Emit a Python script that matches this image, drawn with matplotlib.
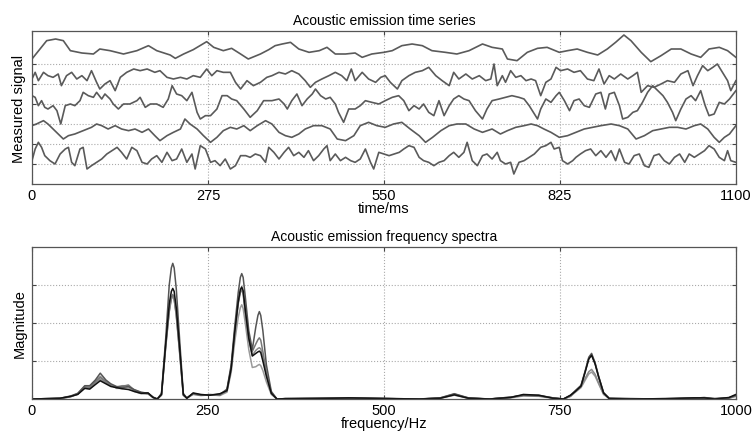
import matplotlib
matplotlib.use("Agg")
import matplotlib.pyplot as plt

plt.rcParams["font.family"] = ["Liberation Sans", "DejaVu Sans"]

# time series, five channels (time in ms, signal in arbitrary units)
t_ch1 = [0,23,37,49,60,78,96,106,122,143,164,182,195,216,224,237,252,273,284,299,312,326,338,357,370,380,391,404,417,433,449,461,474,490,505,516,531,550,563,578,594,610,625,646,664,683,704,719,735,743,758,774,790,805,824,837,852,868,884,899,912,925,936,952,967,983,999,1014,1030,1045,1058,1074,1087,1100]
sig_ch1 = [-30,25,30,25,-5,-12,-15,0,-5,-15,-5,10,-5,-18,-28,-15,-2,22,5,-5,2,-15,-30,-15,-2,10,15,20,0,-10,-5,5,-15,-15,-12,-25,-15,-10,-5,10,15,10,-5,-10,-15,-5,15,5,0,-30,-35,-10,2,5,-10,-5,0,-10,-18,0,20,42,25,-10,-38,-20,0,0,-15,-25,0,5,-5,-25]

t_ch2 = [0,5,10,18,25,33,41,46,54,62,70,78,86,93,101,106,114,122,130,138,148,159,169,180,192,200,211,221,232,242,252,263,273,281,289,299,310,318,326,336,346,357,367,375,386,396,406,417,427,435,443,453,464,474,484,492,499,505,516,526,537,545,552,560,571,578,589,599,610,620,631,641,652,659,667,678,688,699,709,717,722,727,735,740,748,756,764,772,780,787,795,803,811,819,826,837,847,857,868,878,886,894,902,910,920,931,939,946,952,962,972,983,993,1004,1014,1025,1033,1040,1048,1056,1064,1071,1079,1087,1092,1100]
sig_ch2 = [-10,10,-15,10,0,-5,5,-30,0,10,-10,0,-15,15,-20,-40,-25,-15,-45,-5,10,20,15,20,10,15,-5,-10,-5,-10,0,-5,20,0,15,10,10,-20,-40,-15,-30,-20,-5,0,10,5,15,5,-15,-35,-20,-10,0,10,0,-15,20,-15,10,-10,-20,-5,0,-20,-40,-15,0,10,15,25,0,-15,-30,10,-10,5,-10,0,-15,-10,35,-30,0,-20,15,-5,0,-15,-10,-15,-60,-20,-10,25,15,20,10,15,-10,-15,20,-25,0,-10,5,-10,0,10,-50,-30,-35,-25,-15,-20,5,15,-30,0,30,15,25,35,10,-15,-45,-15]

t_ch3 = [0,5,10,15,20,25,33,39,45,52,60,67,75,80,88,96,101,109,114,122,127,135,143,153,164,169,177,185,195,205,213,219,226,234,242,250,258,263,271,279,289,297,305,312,320,331,341,352,362,375,386,394,399,406,414,422,430,438,443,451,459,466,474,479,487,495,505,513,521,531,542,552,563,573,581,589,597,605,612,620,628,636,644,652,659,667,675,683,693,704,711,719,730,740,750,761,769,777,785,790,795,803,811,819,824,832,840,847,855,863,871,881,889,896,902,910,918,923,931,939,946,954,962,970,978,986,993,1001,1006,1014,1022,1030,1037,1045,1052,1058,1066,1074,1082,1090,1100]
sig_ch3 = [20,15,-10,5,-15,-20,-10,-25,-65,-10,-5,-10,5,30,20,15,30,10,25,10,-5,-20,-5,-5,5,15,-15,-5,-5,-15,10,50,25,20,5,30,-30,-50,-40,-40,-20,20,20,10,5,-20,-45,-25,5,5,10,-5,-20,5,25,-10,10,25,40,20,10,15,-5,-30,-60,-20,-20,-10,5,0,-5,5,15,20,5,-25,-10,-20,-5,-30,-40,5,-40,-10,10,20,10,5,-25,-50,-20,5,10,15,20,15,10,-10,-35,-50,-20,10,0,20,30,5,-25,5,10,-10,-15,25,30,-20,25,30,-10,-50,-45,-30,-25,0,30,50,35,20,0,-30,-55,-20,10,20,5,35,-10,-40,-35,0,-5,10,35]

t_ch4 = [0,7,18,25,33,41,49,57,67,80,93,101,109,119,130,140,151,161,172,182,192,200,211,221,232,239,247,258,268,279,289,299,310,320,331,341,352,365,375,386,396,406,417,427,440,453,466,477,490,503,513,526,539,552,565,578,591,605,615,626,639,652,664,678,691,704,719,732,743,756,769,780,790,800,811,824,837,850,863,876,889,905,918,931,944,957,970,983,996,1009,1022,1035,1045,1056,1066,1074,1082,1090,1100]
sig_ch4 = [10,15,25,15,0,-15,-30,-20,-15,-5,5,15,10,0,10,0,-5,0,-10,0,-20,-35,-20,-10,0,30,15,0,-20,-40,-25,-5,5,0,10,-5,10,25,15,-10,-20,-25,-15,0,10,10,0,-30,-35,-20,10,20,10,5,15,20,0,-20,-40,-25,-5,10,15,15,0,-10,0,-15,-5,5,10,15,10,0,-10,-25,-20,-10,0,5,10,15,10,0,-30,-20,-5,0,5,5,0,10,15,0,-25,-40,-25,-15,10]

t_ch5 = [0,5,10,15,20,28,36,44,52,57,62,67,75,80,86,93,101,109,117,125,133,140,148,156,164,172,180,187,195,203,211,219,226,234,242,250,255,263,271,279,286,294,302,310,318,326,334,341,349,357,365,370,378,386,394,401,409,417,425,432,440,448,456,461,466,474,482,490,498,505,513,521,529,534,542,550,558,566,574,581,589,597,605,612,620,628,636,644,652,659,667,675,680,688,696,704,711,719,727,732,740,748,753,761,769,777,785,795,803,811,816,824,829,837,845,850,857,865,873,881,889,897,905,912,918,926,933,941,949,957,964,972,980,988,996,1004,1012,1020,1027,1035,1043,1051,1058,1066,1074,1082,1087,1092,1100]
sig_ch5 = [-15,20,40,25,0,-15,-25,5,20,25,-20,-30,20,25,-40,-30,-20,-10,5,15,25,10,-10,25,15,-20,-25,-10,0,-20,10,-15,-10,20,-20,5,-40,30,20,-20,-15,-30,-10,-40,-30,0,0,-5,5,0,-20,25,10,-10,10,25,0,10,-5,15,-15,0,20,30,-15,5,-15,-5,-15,-20,-10,20,-20,-40,10,5,0,5,10,20,30,25,-5,-15,-20,-30,-20,-15,0,10,-5,10,40,-15,-30,0,5,-10,10,-15,-25,-20,-55,-20,-15,-5,5,25,30,40,20,25,-15,-25,-15,-5,5,15,20,0,15,-5,15,-15,20,-20,-25,0,5,-30,-35,0,5,-15,-25,-5,5,-20,5,-5,5,15,30,20,-5,-15,15,-15,-20]

# frequency spectra (Hz, magnitude)
freq = [0,40,55,65,75,82,90,97,105,112,120,128,137,145,155,165,172,178,
        184,190,195,198,200,202,205,210,215,220,229,240,253,267,
        277,283,288,293,296,298,300,303,308,313,318,321,323,325,328,333,340,348,
        360,400,450,550,580,600,620,650,680,698,720,740,755,
        765,772,780,786,791,795,800,805,812,820,850,900,940,955,970,990,1000]
mag_a = [0,0.02,0.08,0.15,0.35,0.35,0.5,0.68,0.5,0.4,0.33,0.3,0.33,0.25,0.18,0.15,0.05,0.0,
         0.15,1.6,3.0,3.45,3.57,3.45,2.9,1.5,0.15,0.02,0.15,0.1,0.11,0.12,
         0.26,0.9,1.9,2.8,3.2,3.3,3.2,2.7,1.8,1.3,1.9,2.2,2.3,2.2,1.8,0.9,0.2,0.0,
         0.01,0.02,0.02,0.0,0.03,0.14,0.03,0.0,0.05,0.1,0.09,0.03,0.0,
         0.1,0.22,0.36,0.75,1.1,1.2,0.95,0.6,0.17,0.02,0.01,0.0,0.02,0.04,0.01,0.03,0.1]
mag_b = [0,0.02,0.07,0.12,0.28,0.26,0.38,0.48,0.4,0.33,0.3,0.27,0.25,0.2,0.15,0.16,0.04,0.0,
         0.12,1.45,2.5,2.83,2.91,2.83,2.4,1.3,0.12,0.02,0.16,0.12,0.1,0.14,
         0.22,0.8,1.75,2.55,2.88,2.95,2.85,2.35,1.6,1.13,1.2,1.24,1.26,1.22,1.0,0.6,0.15,0.0,
         0.01,0.01,0.03,0.0,0.02,0.11,0.02,0.0,0.04,0.12,0.1,0.02,0.0,
         0.1,0.2,0.34,0.72,1.05,1.15,0.92,0.58,0.16,0.01,0.0,0.01,0.03,0.03,0.0,0.04,0.12]
mag_c = [0,0.01,0.06,0.13,0.3,0.3,0.45,0.57,0.45,0.36,0.3,0.33,0.37,0.24,0.17,0.14,0.04,0.0,
         0.12,1.4,2.35,2.68,2.75,2.66,2.25,1.2,0.1,0.03,0.13,0.1,0.12,0.1,
         0.24,0.85,1.8,2.55,2.83,2.9,2.8,2.3,1.6,1.25,1.45,1.56,1.61,1.55,1.25,0.7,0.17,0.0,
         0.01,0.02,0.02,0.0,0.03,0.13,0.02,0.0,0.05,0.1,0.08,0.03,0.0,
         0.08,0.22,0.35,0.72,1.07,1.17,0.93,0.58,0.16,0.02,0.01,0.0,0.02,0.03,0.01,0.03,0.09]
mag_d = [0,0.02,0.07,0.14,0.32,0.28,0.42,0.52,0.42,0.35,0.32,0.35,0.35,0.22,0.16,0.15,0.05,0.0,
         0.1,1.4,2.3,2.63,2.7,2.62,2.2,1.2,0.1,0.03,0.14,0.11,0.1,0.12,
         0.2,0.8,1.7,2.5,2.8,2.87,2.76,2.25,1.55,1.15,1.28,1.33,1.35,1.32,1.1,0.65,0.15,0.0,
         0.0,0.02,0.03,0.0,0.02,0.12,0.03,0.0,0.04,0.09,0.1,0.03,0.0,
         0.07,0.2,0.33,0.55,0.72,0.78,0.65,0.42,0.13,0.02,0.0,0.01,0.03,0.02,0.0,0.02,0.08]
mag_e = [0,0.01,0.06,0.13,0.33,0.32,0.48,0.6,0.47,0.38,0.28,0.28,0.3,0.2,0.14,0.13,0.04,0.0,
         0.1,1.35,2.3,2.65,2.72,2.63,2.2,1.15,0.1,0.02,0.12,0.09,0.11,0.09,
         0.18,0.7,1.5,2.15,2.4,2.48,2.38,2.0,1.3,0.83,0.85,0.89,0.91,0.88,0.75,0.45,0.12,0.0,
         0.01,0.01,0.02,0.0,0.02,0.1,0.02,0.0,0.03,0.08,0.07,0.02,0.0,
         0.07,0.18,0.3,0.5,0.66,0.71,0.6,0.4,0.12,0.01,0.0,0.01,0.02,0.02,0.01,0.02,0.07]

time_ticks = [0, 275, 550, 825, 1100]
freq_ticks = [0, 250, 500, 750, 1000]

# stacking of the channels in the top panel
offsets = [6.75, 5.4167, 4.0833, 2.75, 1.4167]
scale = 1 / 60

fig = plt.figure(figsize=(7.54, 4.39), dpi=100)
ax1 = fig.add_axes([0.0424, 0.5786, 0.9336, 0.3485])
ax2 = fig.add_axes([0.0424, 0.0888, 0.9336, 0.3463])

channels = [(t_ch1, sig_ch1), (t_ch2, sig_ch2), (t_ch3, sig_ch3),
            (t_ch4, sig_ch4), (t_ch5, sig_ch5)]
for (t, s), off in zip(channels, offsets):
    ax1.plot(t, [off + v * scale for v in s], color="#5a5a5a", lw=1.2)

ax1.set_xlim(0, 1100)
ax1.set_ylim(0, 7.65)
ax1.set_xticks(time_ticks)
ax1.set_yticks([1, 2, 3, 4, 5, 6])
ax1.set_yticklabels([])
ax1.set_title("Acoustic emission time series", fontsize=10, pad=5)
ax1.set_xlabel("time/ms", fontsize=10.5, labelpad=-1)
ax1.set_ylabel("Measured signal", fontsize=10.5, labelpad=1)

spectra = [(mag_e, "#9a9a9a"), (mag_d, "#8a8a8a"), (mag_c, "#777777"),
           (mag_a, "#555555"), (mag_b, "#111111")]
for m, c in spectra:
    ax2.plot(freq, m, color=c, lw=1.1)

ax2.set_xlim(0, 1000)
ax2.set_ylim(0, 4)
ax2.set_xticks(freq_ticks)
ax2.set_yticks([1, 2, 3])
ax2.set_yticklabels([])
ax2.set_title("Acoustic emission frequency spectra", fontsize=10, pad=5)
ax2.set_xlabel("frequency/Hz", fontsize=10.5, labelpad=-1)
ax2.set_ylabel("Magnitude", fontsize=10.5, labelpad=1)

for ax in (ax1, ax2):
    ax.grid(True, linestyle=":", color="#aaaaaa", lw=0.8)
    ax.tick_params(direction="in", top=True, right=True, length=3,
                   labelsize=10.5, color="#444444", pad=3)
    for sp in ax.spines.values():
        sp.set_color("#555555")
        sp.set_linewidth(0.9)

fig.savefig("out.png", dpi=100)
